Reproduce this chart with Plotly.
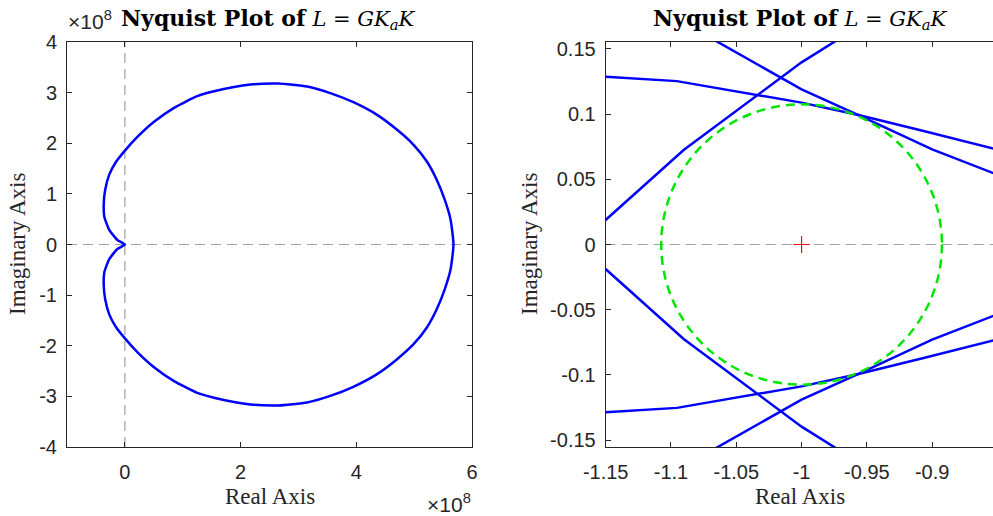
import plotly.graph_objects as go

# ---------------- data ----------------
# Left panel: full Nyquist curve of L = G*Ka*K (values in units of 1e8)
upper_re = [0.0, -0.13, -0.27, -0.355, -0.365, -0.34, -0.27, -0.16, -0.01, 0.22, 0.51, 0.85,
            1.25, 1.71, 2.17, 2.65, 3.15, 3.55, 3.95, 4.36, 4.70, 4.99, 5.22, 5.39, 5.53, 5.63, 5.68]
upper_im = [0.0, 0.09, 0.29, 0.55, 0.80, 1.08, 1.38, 1.62, 1.84, 2.13, 2.43, 2.70,
            2.93, 3.07, 3.16, 3.18, 3.12, 2.99, 2.81, 2.56, 2.27, 1.97, 1.64, 1.28, 0.88, 0.49, 0.0]
lower_re = [5.68, 5.63, 5.53, 5.39, 5.22, 4.99, 4.70, 4.36, 3.95, 3.55, 3.15, 2.65, 2.17,
            1.71, 1.25, 0.85, 0.51, 0.22, -0.01, -0.16, -0.27, -0.34, -0.365, -0.355, -0.27, -0.13, 0.0]
lower_im = [0.0, -0.49, -0.88, -1.28, -1.64, -1.97, -2.27, -2.56, -2.81, -2.99, -3.12, -3.18, -3.16,
            -3.07, -2.93, -2.70, -2.43, -2.13, -1.84, -1.62, -1.38, -1.08, -0.80, -0.55, -0.29, -0.09, 0.0]

# Right panel: zoom around the critical point -1
a_up_re = [-1.15, -1.0955, -1.0, -0.9564, -0.905, -0.85]
a_up_im = [0.1286, 0.1253, 0.1088, 0.0993, 0.0866, 0.0728]
a_lo_re = [-1.15, -1.0955, -1.0, -0.9564, -0.905, -0.85]
a_lo_im = [-0.1286, -0.1253, -0.1088, -0.0993, -0.0866, -0.0728]
b_up_re = [-1.16, -1.15, -1.0903, -1.0, -0.975, -0.97]
b_up_im = [0.0099, 0.0189, 0.0725, 0.1397, 0.1554, 0.1585]
b_lo_re = [-1.16, -1.15, -1.0903, -1.0, -0.975, -0.97]
b_lo_im = [-0.0099, -0.0189, -0.0725, -0.1397, -0.1554, -0.1585]
c_up_re = [-1.0698, -1.0643, -1.0, -0.9564, -0.9, -0.85]
c_up_im = [0.1585, 0.1554, 0.119, 0.0993, 0.073, 0.0535]
c_lo_re = [-1.0698, -1.0643, -1.0, -0.9564, -0.9, -0.85]
c_lo_im = [-0.1585, -0.1554, -0.119, -0.0993, -0.073, -0.0535]

critical_point = (-1.0, 0.0)
margin_radius = 0.1075

left_xticks = [0, 2, 4, 6]
left_yticks = [-4, -3, -2, -1, 0, 1, 2, 3, 4]
right_xticks = [-1.15, -1.1, -1.05, -1.0, -0.95, -0.9]
right_xticklabels = ["-1.15", "-1.1", "-1.05", "-1", "-0.95", "-0.9"]
right_yticks = [-0.15, -0.1, -0.05, 0, 0.05, 0.1, 0.15]
right_yticklabels = ["-0.15", "-0.1", "-0.05", "0", "0.05", "0.1", "0.15"]

title_text = ('<b>Nyquist Plot of</b> '
              '<span style="font-size:21px"><i>L</i> = <i>GK<sub>a</sub>K</i></span>')

# ---------------- figure ----------------
W, H = 993, 516
def fx(p):
    return p / W
def fy(p):
    return 1 - p / H

BLUE = "rgb(0,0,255)"
AX = "#262626"
GRAY = "rgb(160,160,160)"
SANS = "Liberation Sans, Arial, sans-serif"
TICKFONT = dict(family=SANS, size=20, color=AX)
SERIF = "Liberation Serif, Times New Roman, serif"
TITLE_SERIF = "DejaVu Serif, serif"

fig = go.Figure()
fig.add_trace(go.Scatter(x=upper_re + lower_re[1:], y=upper_im + lower_im[1:], mode="lines",
                         line=dict(color=BLUE, width=2.5, shape="spline", smoothing=0.5),
                         xaxis="x", yaxis="y", showlegend=False, hoverinfo="skip"))
for xr, yi in [(a_up_re, a_up_im), (a_lo_re, a_lo_im), (b_up_re, b_up_im),
               (b_lo_re, b_lo_im), (c_up_re, c_up_im), (c_lo_re, c_lo_im)]:
    fig.add_trace(go.Scatter(x=xr, y=yi, mode="lines", line=dict(color=BLUE, width=2.5),
                             xaxis="x2", yaxis="y2", showlegend=False, hoverinfo="skip"))
fig.add_trace(go.Scatter(x=[critical_point[0]], y=[critical_point[1]], mode="markers",
                         marker=dict(symbol="cross-thin", size=12, line=dict(color="red", width=1.2)),
                         xaxis="x2", yaxis="y2", showlegend=False, hoverinfo="skip"))

ydom = [fy(447), fy(42)]
common = dict(showgrid=False, zeroline=False, showline=True, linecolor=AX, linewidth=1,
              ticks="inside", ticklen=5, tickcolor=AX, tickwidth=1, tickfont=TICKFONT,
              automargin=False)

fig.update_layout(
    width=W, height=H, margin=dict(l=0, r=0, t=0, b=0, autoexpand=False),
    paper_bgcolor="white", plot_bgcolor="white",
    xaxis=dict(domain=[fx(67), fx(472)], range=[-1, 6], tickvals=left_xticks,
               ticktext=[str(v) for v in left_xticks], mirror="ticks", anchor="y",
               ticklabelstandoff=7, **common),
    yaxis=dict(domain=ydom, range=[-4, 4], tickvals=left_yticks,
               ticktext=[str(v) for v in left_yticks], mirror="ticks", anchor="x",
               ticklabelstandoff=5, **common),
    xaxis2=dict(domain=[fx(605.7), 1.0], range=[-1.15, -0.8534], tickvals=right_xticks,
                ticktext=right_xticklabels, mirror="ticks", anchor="y2",
                ticklabelstandoff=7, **common),
    yaxis2=dict(domain=ydom, range=[-0.1553, 0.1553], tickvals=right_yticks,
                ticktext=right_yticklabels, mirror=False, anchor="x2",
                ticklabelstandoff=5, **common),
)

dash_line = dict(color=GRAY, width=1.2, dash="10px,6px")
fig.add_shape(type="line", xref="x", yref="y domain", x0=0, x1=0, y0=0, y1=1,
              line=dash_line, layer="below")
fig.add_shape(type="line", xref="x domain", yref="y", x0=0, x1=1, y0=0, y1=0,
              line=dash_line, layer="below")
fig.add_shape(type="line", xref="x2 domain", yref="y2", x0=0, x1=1, y0=0, y1=0,
              line=dash_line, layer="below")
fig.add_shape(type="circle", xref="x2", yref="y2",
              x0=critical_point[0] - margin_radius, x1=critical_point[0] + margin_radius,
              y0=critical_point[1] - margin_radius, y1=critical_point[1] + margin_radius,
              line=dict(color="rgb(0,230,0)", width=2.5, dash="9px,6px"))

ann = []
for cx in (268, 800):
    ann.append(dict(text=title_text, x=fx(cx), y=fy(19), xref="paper", yref="paper",
                    showarrow=False, xanchor="center", yanchor="middle",
                    font=dict(family=TITLE_SERIF, size=22, color="black")))
for cx in (270, 800):
    ann.append(dict(text="Real Axis", x=fx(cx), y=fy(496), xref="paper", yref="paper",
                    showarrow=False, xanchor="center", yanchor="middle",
                    font=dict(family=SERIF, size=23, color=AX)))
for cx in (18, 530):
    ann.append(dict(text="Imaginary Axis", x=fx(cx), y=fy(244), xref="paper", yref="paper",
                    showarrow=False, xanchor="center", yanchor="middle", textangle=-90,
                    font=dict(family=SERIF, size=23, color=AX)))
ann.append(dict(text="×10<sup>8</sup>", x=fx(66), y=fy(20), xref="paper", yref="paper",
                showarrow=False, xanchor="left", yanchor="middle",
                font=dict(family=SANS, size=21, color=AX)))
ann.append(dict(text="×10<sup>8</sup>", x=fx(473), y=fy(503), xref="paper", yref="paper",
                showarrow=False, xanchor="right", yanchor="middle",
                font=dict(family=SANS, size=21, color=AX)))
fig.update_layout(annotations=ann)

fig.write_html("out.html")
